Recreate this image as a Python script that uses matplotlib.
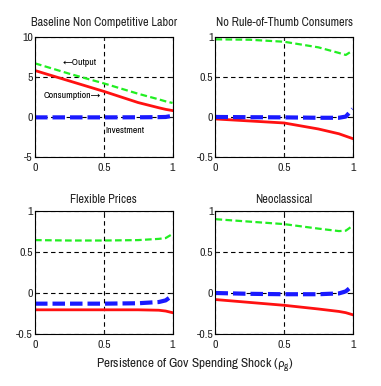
import matplotlib
matplotlib.use("Agg")
import matplotlib.pyplot as plt
import numpy as np

plt.rcParams['font.family'] = ['Archivo Narrow', 'DejaVu Sans']
plt.rcParams['mathtext.default'] = 'regular'

rho = [0.0, 0.25, 0.5, 0.75, 0.9, 0.95, 1.0]

titles = ["Baseline Non Competitive Labor", "No Rule-of-Thumb Consumers",
          "Flexible Prices", "Neoclassical"]

output_vals = [
    [6.7, 5.4, 4.2, 2.9, 2.2, 1.95, 1.75],
    [0.97, 0.965, 0.94, 0.87, 0.80, 0.775, 0.83],
    [0.645, 0.64, 0.64, 0.645, 0.66, 0.67, 0.72],
    [0.90, 0.87, 0.84, 0.785, 0.755, 0.76, 0.82],
]
consumption_vals = [
    [5.8, 4.5, 3.2, 1.8, 1.15, 0.95, 0.8],
    [-0.025, -0.05, -0.075, -0.15, -0.21, -0.24, -0.27],
    [-0.205, -0.205, -0.205, -0.205, -0.21, -0.22, -0.24],
    [-0.08, -0.115, -0.15, -0.195, -0.225, -0.24, -0.265],
]
investment_vals = [
    [-0.05, -0.05, -0.05, -0.04, -0.02, 0.0, 0.15],
    [0.0, -0.003, -0.005, -0.01, -0.01, 0.005, 0.10],
    [-0.13, -0.13, -0.13, -0.125, -0.11, -0.09, -0.03],
    [0.0, -0.01, -0.015, -0.015, -0.005, 0.02, 0.09],
]
ylims = [(-5, 10), (-0.5, 1), (-0.5, 1), (-0.5, 1)]
yticks = [[-5, 0, 5, 10], [-0.5, 0, 0.5, 1], [-0.5, 0, 0.5, 1], [-0.5, 0, 0.5, 1]]
ytick_labels = [["-5", "0", "5", "10"], ["-0.5", "0", "0.5", "1"],
                ["-0.5", "0", "0.5", "1"], ["-0.5", "0", "0.5", "1"]]
xticks = [0, 0.5, 1]
xtick_labels = ["0", "0.5", "1"]

fig = plt.figure(figsize=(3.81, 3.86), dpi=100)
positions = [
    [0.0919, 0.5933, 0.361, 0.311],
    [0.5656, 0.5933, 0.360, 0.311],
    [0.0919, 0.1347, 0.361, 0.3187],
    [0.5656, 0.1347, 0.360, 0.3187],
]
title_pads = [8, 8, 5.5, 5.5]

for i in range(4):
    ax = fig.add_axes(positions[i])
    ax.set_xlim(0, 1)
    ax.set_ylim(*ylims[i])
    ax.set_xticks(xticks)
    ax.set_xticklabels(xtick_labels)
    ax.set_yticks(yticks[i])
    ax.set_yticklabels(ytick_labels[i])
    ax.tick_params(axis='x', direction='in', length=2, labelsize=8.5, pad=4,
                   top=True, colors='#222222')
    ax.tick_params(axis='y', direction='in', length=2, labelsize=8.5, pad=1.5,
                   right=True, colors='#222222')
    ax.grid(True, color='black', linestyle=(0, (4, 3)), linewidth=0.8)
    ax.plot(rho, output_vals[i], color='#22ee22', linestyle=(0, (3, 1.5)), linewidth=1.6)
    ax.plot(rho, consumption_vals[i], color='#ff1111', linestyle='-', linewidth=2.0)
    ax.plot(rho, investment_vals[i], color='#1a1aff', linestyle=(0, (3, 1.2)), linewidth=3.0)
    ax.set_title(titles[i], fontsize=8.8, pad=title_pads[i], color='#222222')
    for s in ax.spines.values():
        s.set_linewidth(0.8)

    if i == 0:
        ax.text(0.2, 6.8, "\u2190Output", fontsize=7, va='center', ha='left')
        ax.text(0.065, 2.7, "Consumption\u2192", fontsize=7, va='center', ha='left')
        ax.text(0.51, -1.7, "Investment", fontsize=7, va='center', ha='left')

fig.text(0.51, 0.054, r"Persistence of Gov Spending Shock ($\rho_g$)", fontsize=9.5,
         ha='center', va='center', color='#222222')

fig.savefig("out.png", dpi=100)
